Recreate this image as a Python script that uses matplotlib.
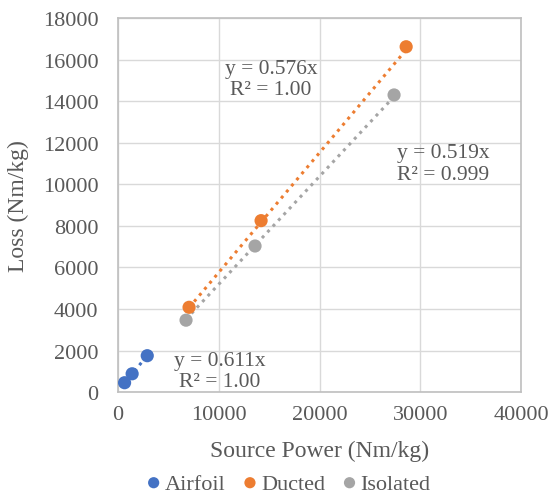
import numpy as np
import matplotlib
matplotlib.use('Agg')
import matplotlib.pyplot as plt

plt.rcParams['font.family'] = ['Liberation Serif', 'DejaVu Serif']

series = ['Airfoil', 'Ducted', 'Isolated']
colors = ['#4472C4', '#ED7D31', '#A5A5A5']

airfoil_x = [650, 1400, 2900]
airfoil_y = [450, 880, 1750]
ducted_x = [7050, 14200, 28600]
ducted_y = [4080, 8250, 16620]
isolated_x = [6750, 13600, 27400]
isolated_y = [3460, 7030, 14300]

slopes = [0.611, 0.576, 0.519]
r2_labels = ['1.00', '1.00', '0.999']
# label positions (data coords) for trendline equations
label_pos = [(10100, 1000), (15200, 15050), (32300, 11000)]

xs = [airfoil_x, ducted_x, isolated_x]
ys = [airfoil_y, ducted_y, isolated_y]

fig = plt.figure(figsize=(5.49, 5.02), dpi=100)
ax = fig.add_axes([0.215, 0.217, 0.734, 0.745])

text_col = '#595959'
for name, c, x, y, m in zip(series, colors, xs, ys, slopes):
	x = np.array(x)
	ax.scatter(x, y, s=90, color=c, label=name, zorder=3, edgecolors='none')
	# trendline through origin over data range
	xl = np.array([x.min(), x.max()])
	ax.plot(xl, m * xl, linestyle=(0, (1, 1.6)), color=c, linewidth=2.2, zorder=2)

for (px, py), m, r2 in zip(label_pos, slopes, r2_labels):
	ax.text(px, py, 'y = %.3fx\nR² = %s' % (m, r2), ha='center', va='center',
		fontsize=15.5, color=text_col, linespacing=1.15)

ax.set_xlim(0, 40000)
ax.set_ylim(0, 18000)
ax.set_xticks(np.arange(0, 40001, 10000))
ax.set_yticks(np.arange(0, 18001, 2000))
ax.grid(True, color='#d9d9d9', linewidth=1)
ax.set_axisbelow(True)
for s in ax.spines.values():
	s.set_color('#bfbfbf')
	s.set_linewidth(1.2)
ax.tick_params(length=0, labelsize=16, labelcolor=text_col)
ax.tick_params(axis='x', pad=9)
ax.tick_params(axis='y', pad=14)
ax.set_xlabel('Source Power (Nm/kg)', fontsize=17, color=text_col, labelpad=12)
ax.set_ylabel('Loss (Nm/kg)', fontsize=17, color=text_col, labelpad=10)

leg = fig.legend(loc='lower center', bbox_to_anchor=(0.52, -0.025), ncol=3, frameon=False,
	fontsize=16, handletextpad=-0.1, handlelength=1.2, columnspacing=0.5, markerscale=0.85)
for t in leg.get_texts():
	t.set_color(text_col)

fig.savefig('out.png', dpi=100)
